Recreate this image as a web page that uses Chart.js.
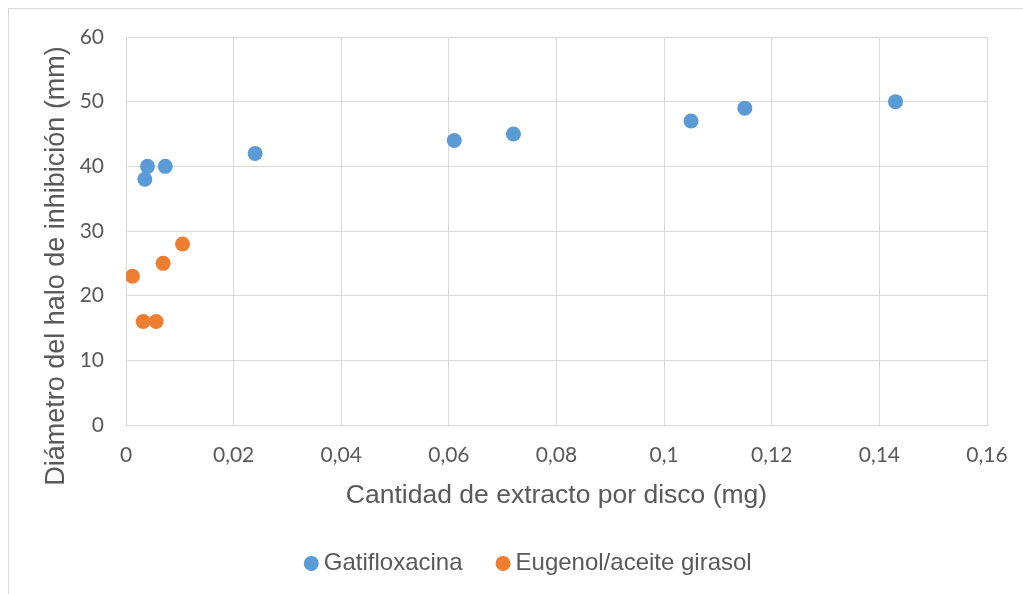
<!DOCTYPE html>
<html>
<head>
<meta charset="utf-8">
<script src="https://cdn.jsdelivr.net/npm/chart.js@4/dist/chart.umd.min.js"></script>
<style>
  html, body { margin: 0; padding: 0; background: #ffffff; }
  canvas { display: block; }
</style>
</head>
<body>
<canvas id="c" width="1023" height="594"></canvas>
<script>
// Gatifloxacina: extract amount per disc (mg) vs inhibition halo diameter (mm)
const gatiX = [0.0040, 0.0035, 0.0073, 0.024, 0.061, 0.072, 0.105, 0.115, 0.143];
const gatiY = [40, 38, 40, 42, 44, 45, 47, 49, 50];

// Eugenol / sunflower oil
const eugX = [0.0012, 0.0032, 0.0056, 0.0069, 0.0105];
const eugY = [23, 16, 16, 25, 28];

const seriesNames = ['Gatifloxacina', 'Eugenol/aceite girasol'];
const seriesColors = ['#5B9BD5', '#ED7D31'];

const xTickLabels = ['0', '0,02', '0,04', '0,06', '0,08', '0,1', '0,12', '0,14', '0,16'];
const yTickLabels = ['0', '10', '20', '30', '40', '50', '60'];

const xTitle = 'Cantidad de extracto por disco (mg)';
const yTitle = 'Diámetro del halo de inhibición (mm)';

const toPoints = (xs, ys) => xs.map((x, i) => ({ x: x, y: ys[i] }));

const TEXT = '#595959';
const GRID = '#d9d9d9';
const SANS = '"Liberation Sans", Arial, sans-serif';
const tickFont = { family: 'Lato', size: 21 };
const titleFont = { family: SANS, size: 26.5 };

// outer chart frame and rotated value-axis title
const decor = {
  id: 'decor',
  beforeDraw(chart) {
    const ctx = chart.ctx;
    ctx.save();
    ctx.strokeStyle = GRID;
    ctx.lineWidth = 1;
    ctx.strokeRect(8.5, 8.5, 1200, 800);
    ctx.restore();
  },
  afterDraw(chart) {
    const ctx = chart.ctx;
    ctx.save();
    ctx.fillStyle = TEXT;
    ctx.font = '27px ' + SANS;
    ctx.textAlign = 'center';
    ctx.textBaseline = 'middle';
    ctx.translate(57, 266);
    ctx.rotate(-Math.PI / 2);
    ctx.fillText(yTitle, 0, 0);
    ctx.restore();
  }
};

new Chart(document.getElementById('c'), {
  type: 'scatter',
  data: {
    datasets: [
      {
        label: seriesNames[0],
        data: toPoints(gatiX, gatiY),
        backgroundColor: seriesColors[0],
        borderColor: seriesColors[0],
        borderWidth: 0,
        pointRadius: 7.5,
        pointHoverRadius: 7.5
      },
      {
        label: seriesNames[1],
        data: toPoints(eugX, eugY),
        backgroundColor: seriesColors[1],
        borderColor: seriesColors[1],
        borderWidth: 0,
        pointRadius: 7.5,
        pointHoverRadius: 7.5
      }
    ]
  },
  options: {
    responsive: false,
    animation: false,
    devicePixelRatio: 1,
    layout: { padding: { left: 75.5, right: 36, top: 37, bottom: 8.6 } },
    plugins: {
      tooltip: { enabled: false },
      legend: {
        position: 'bottom',
        labels: {
          usePointStyle: true,
          pointStyle: 'circle',
          boxWidth: 1,
          boxHeight: 10.6,
          padding: 40,
          color: TEXT,
          font: { family: SANS, size: 24 }
        }
      }
    },
    scales: {
      x: {
        type: 'linear',
        min: 0,
        max: 0.16,
        afterFit(s) { s.height = 86.4; s.paddingLeft = 0; s.paddingRight = 0; },
        ticks: {
          stepSize: 0.02,
          color: TEXT,
          font: tickFont,
          padding: 18,
          maxRotation: 0,
          callback: (v, i) => xTickLabels[i]
        },
        grid: { color: GRID, lineWidth: 1, drawTicks: false },
        border: { color: GRID, width: 1 },
        title: {
          display: true,
          text: xTitle,
          color: TEXT,
          font: titleFont,
          padding: { top: 0, bottom: 0 }
        }
      },
      y: {
        type: 'linear',
        min: 0,
        max: 60,
        afterFit(s) { s.width = 50.5; },
        ticks: {
          stepSize: 10,
          color: TEXT,
          font: tickFont,
          padding: 22,
          callback: (v, i) => yTickLabels[i]
        },
        grid: { color: GRID, lineWidth: 1, drawTicks: false },
        border: { color: GRID, width: 1 }
      }
    }
  },
  plugins: [decor]
});
</script>
</body>
</html>
